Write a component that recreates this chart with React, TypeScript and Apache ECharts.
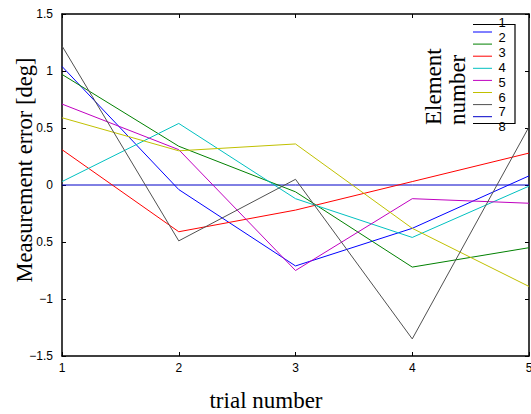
import React, { useEffect, useRef } from "react";
import * as echarts from "echarts";

const trials = [1, 2, 3, 4, 5];
const elementNames = ["1", "2", "3", "4", "5", "6", "7", "8"];
const e1 = [1.04, -0.04, -0.71, -0.38, 0.08];
const e2 = [0.97, 0.34, -0.06, -0.72, -0.55];
const e3 = [0.31, -0.41, -0.22, 0.03, 0.28];
const e4 = [0.03, 0.54, -0.12, -0.46, -0.01];
const e5 = [0.71, 0.31, -0.75, -0.12, -0.16];
const e6 = [0.59, 0.3, 0.36, -0.38, -0.89];
const e7 = [1.22, -0.49, 0.05, -1.35, 0.51];
const e8 = [0, 0, 0, 0, 0];
const seriesValues = [e1, e2, e3, e4, e5, e6, e7, e8];
const yTicks = [-1.5, -1, -0.5, 0, 0.5, 1, 1.5];
const yTickLabels = ["−1.5", "−1", "0.5", "0", "0.5", "1", "1.5"];
const xTickLabels = ["1", "2", "3", "4", "5"];

const colors = ["#0000ff", "#008000", "#ff0000", "#00c0c0", "#c000c0", "#c0c000", "#505050", "#0000c8"];
const SERIF = "'Liberation Serif', 'DejaVu Serif', serif";
const SANS = "'Liberation Sans', Arial, sans-serif";

export default function App() {
  const ref = useRef<HTMLDivElement>(null);
  useEffect(() => {
    if (!ref.current) return;
    const chart = echarts.init(ref.current, null, { renderer: "svg" });

    const series: any[] = seriesValues.map((vals, i) => ({
      name: elementNames[i],
      type: "line",
      data: trials.map((t, j) => [t, vals[j]]),
      showSymbol: false,
      symbol: "none",
      lineStyle: { color: colors[i], width: 1 },
      itemStyle: { color: colors[i] },
      z: i === 7 ? 1 : 2,
    }));

    const legendEls: any[] = [];
    elementNames.forEach((n, i) => {
      const ly = 32 + i * 12.1;
      legendEls.push({
        type: "line",
        shape: { x1: 473, y1: ly, x2: 492, y2: ly },
        style: { stroke: colors[i], lineWidth: 1 },
        z: 100,
      });
      legendEls.push({
        type: "text",
        x: 502,
        y: 22.7 + i * 14.86,
        style: { text: n, font: `13px ${SANS}`, fill: "#000", align: "center", verticalAlign: "middle" },
        z: 101,
      });
    });
    legendEls.push({
      type: "polyline",
      shape: { points: [[473, 24.5], [515, 24.5], [515, 123.5], [473, 123.5]] },
      style: { stroke: "#000", lineWidth: 1.2, fill: "none" },
      z: 100,
    });

    const yFmt = (v: number) => {
      const idx = yTicks.findIndex((t) => Math.abs(t - v) < 1e-6);
      return idx >= 0 ? yTickLabels[idx] : "";
    };
    const xFmt = (v: number) => {
      const idx = trials.findIndex((t) => Math.abs(t - v) < 1e-6);
      return idx >= 0 ? xTickLabels[idx] : "";
    };

    const axisCommon = {
      axisLine: { show: true, onZero: false, lineStyle: { color: "#000", width: 1.5 } },
      axisTick: { show: true, inside: true, length: 4, lineStyle: { color: "#000", width: 1 } },
      splitLine: { show: false },
    };

    chart.setOption({
      animation: false,
      backgroundColor: "#fff",
      grid: { left: 62, right: 2, top: 14, bottom: 58, containLabel: false, outerBoundsMode: "none" },
      xAxis: [
        {
          type: "value",
          min: 1,
          max: 5,
          interval: 1,
          ...axisCommon,
          axisLabel: { formatter: xFmt, color: "#000", fontSize: 12, fontFamily: SANS, margin: 6 },
        },
        {
          type: "value",
          position: "top",
          min: 1,
          max: 5,
          interval: 1,
          ...axisCommon,
          axisLabel: { show: false },
        },
      ],
      yAxis: [
        {
          type: "value",
          min: -1.5,
          max: 1.5,
          interval: 0.5,
          ...axisCommon,
          axisLabel: { formatter: yFmt, color: "#000", fontSize: 12, fontFamily: SANS, margin: 9 },
        },
        {
          type: "value",
          position: "right",
          min: -1.5,
          max: 1.5,
          interval: 0.5,
          ...axisCommon,
          axisLabel: { show: false },
        },
      ],
      series,
      graphic: [
        {
          type: "text",
          x: 24,
          y: 170,
          rotation: Math.PI / 2,
          style: { text: "Measurement error [deg]", font: `22.5px ${SERIF}`, fill: "#000", align: "center", verticalAlign: "middle" },
        },
        {
          type: "text",
          x: 266,
          y: 400,
          style: { text: "trial number", font: `23px ${SERIF}`, fill: "#000", align: "center", verticalAlign: "middle" },
        },
        {
          type: "text",
          x: 433,
          y: 125,
          rotation: Math.PI / 2,
          style: { text: "Element", font: `23px ${SERIF}`, fill: "#000", align: "left", verticalAlign: "middle" },
          z: 100,
        },
        {
          type: "text",
          x: 457,
          y: 125,
          rotation: Math.PI / 2,
          style: { text: "number", font: `23px ${SERIF}`, fill: "#000", align: "left", verticalAlign: "middle" },
          z: 100,
        },
        ...legendEls,
      ],
    });
    return () => chart.dispose();
  }, []);
  return (
    <div
      ref={ref}
      style={{ position: "fixed", left: 0, top: 0, width: 531, height: 414, background: "#fff" }}
    />
  );
}
